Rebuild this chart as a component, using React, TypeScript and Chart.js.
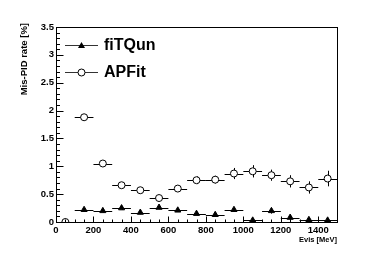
import React, { useEffect, useRef } from "react";
import { Chart, registerables } from "chart.js";

Chart.register(...registerables);

const energies = [50, 150, 250, 350, 450, 550, 650, 750, 850, 950, 1050, 1150, 1250, 1350, 1450];
const binHalfWidth = 50;
const fitqunRate = [0.0, 0.22, 0.2, 0.25, 0.17, 0.26, 0.21, 0.15, 0.13, 0.22, 0.03, 0.2, 0.08, 0.04, 0.03];
const fitqunErr = [0.0, 0.03, 0.03, 0.03, 0.03, 0.03, 0.03, 0.03, 0.03, 0.04, 0.03, 0.05, 0.04, 0.03, 0.03];
const apfitRate = [0.0, 1.88, 1.05, 0.66, 0.57, 0.43, 0.6, 0.75, 0.76, 0.87, 0.91, 0.84, 0.73, 0.62, 0.78];
const apfitErr = [0.0, 0.05, 0.04, 0.04, 0.04, 0.04, 0.05, 0.07, 0.07, 0.1, 0.11, 0.1, 0.11, 0.11, 0.14];
const xTickLabels = ["0", "200", "400", "600", "800", "1000", "1200", "1400"];
const yTickLabels = ["0", "0.5", "1", "1.5", "2", "2.5", "3", "3.5"];
const seriesNames = ["fiTQun", "APFit"];
const xTitle = "Evis [MeV]";
const yTitle = "Mis-PID rate [%]";

const FONT = "'Liberation Sans', Arial, Helvetica, sans-serif";

const rootPlugin = {
  id: "rootStyle",
  beforeDatasetsDraw(chart: any) {
    const ctx = chart.ctx;
    const xs = chart.scales.x;
    const ys = chart.scales.y;
    ctx.save();
    ctx.strokeStyle = "#000";
    ctx.lineWidth = 1;
    const drawErr = (vals: number[], errs: number[]) => {
      energies.forEach((e, i) => {
        const px = xs.getPixelForValue(e);
        const py = Math.round(ys.getPixelForValue(vals[i])) + 0.5;
        const x0 = xs.getPixelForValue(e - binHalfWidth);
        const x1 = xs.getPixelForValue(e + binHalfWidth);
        ctx.beginPath();
        ctx.moveTo(x0, py);
        ctx.lineTo(x1, py);
        const ix = Math.round(px) + 0.5;
        ctx.moveTo(ix, ys.getPixelForValue(vals[i] - errs[i]));
        ctx.lineTo(ix, ys.getPixelForValue(vals[i] + errs[i]));
        ctx.stroke();
      });
    };
    drawErr(fitqunRate, fitqunErr);
    drawErr(apfitRate, apfitErr);
    ctx.restore();
  },
  afterDraw(chart: any) {
    const ctx = chart.ctx;
    const a = chart.chartArea;
    const xs = chart.scales.x;
    const ys = chart.scales.y;
    ctx.save();
    ctx.strokeStyle = "#000";
    ctx.lineWidth = 1;
    const L = Math.round(a.left) + 0.5;
    const R = Math.round(a.right) + 0.5;
    const T = Math.round(a.top) + 0.5;
    const B = Math.round(a.bottom) + 0.5;
    ctx.strokeRect(L, T, R - L, B - T);
    ctx.beginPath();
    for (let v = 0; v <= 1500; v += 50) {
      const px = Math.round(xs.getPixelForValue(v)) + 0.5;
      const len = v % 200 === 0 ? 6 : 3;
      ctx.moveTo(px, B);
      ctx.lineTo(px, B - len);
    }
    for (let k = 0; k <= 35; k++) {
      const v = k / 10;
      const py = Math.round(ys.getPixelForValue(v)) + 0.5;
      const len = k % 5 === 0 ? 7 : 3.5;
      ctx.moveTo(L, py);
      ctx.lineTo(L + len, py);
    }
    ctx.stroke();

    ctx.fillStyle = "#000";
    ctx.font = `bold 7.5px ${FONT}`;
    ctx.textAlign = "right";
    ctx.textBaseline = "middle";
    ctx.fillText(xTitle, a.right, 239.5);
    ctx.save();
    ctx.font = `bold 9.5px ${FONT}`;
    ctx.translate(24, a.top - 4);
    ctx.rotate(-Math.PI / 2);
    ctx.textAlign = "right";
    ctx.textBaseline = "middle";
    ctx.fillText(yTitle, 0, 0);
    ctx.restore();

    const legendY = [45, 72];
    const lx0 = 65, lx1 = 98, mx = 81.5;
    legendY.forEach((y, i) => {
      ctx.strokeStyle = "#333";
      ctx.lineWidth = 1;
      ctx.beginPath();
      ctx.moveTo(lx0, y + 0.5);
      ctx.lineTo(lx1, y + 0.5);
      ctx.stroke();
      if (i === 0) {
        ctx.fillStyle = "#000";
        ctx.beginPath();
        ctx.moveTo(mx, y - 3);
        ctx.lineTo(mx + 3.5, y + 3);
        ctx.lineTo(mx - 3.5, y + 3);
        ctx.closePath();
        ctx.fill();
      } else {
        ctx.fillStyle = "#fff";
        ctx.strokeStyle = "#000";
        ctx.beginPath();
        ctx.arc(mx, y + 0.5, 3.5, 0, Math.PI * 2);
        ctx.fill();
        ctx.stroke();
      }
      ctx.fillStyle = "#000";
      ctx.font = `bold 16px ${FONT}`;
      ctx.textAlign = "left";
      ctx.textBaseline = "middle";
      ctx.fillText(seriesNames[i], 104, y + 1);
    });
    ctx.restore();
  },
};

export default function App() {
  const ref = useRef<HTMLCanvasElement | null>(null);
  useEffect(() => {
    if (!ref.current) return;
    const chart = new Chart(ref.current, {
      type: "scatter",
      data: {
        datasets: [
          {
            label: seriesNames[1],
            data: energies.map((e, i) => ({ x: e, y: apfitRate[i] })),
            pointStyle: "circle",
            pointRadius: 3.5,
            pointBackgroundColor: "#fff",
            pointBorderColor: "#000",
            pointBorderWidth: 1,
            showLine: false,
          },
          {
            label: seriesNames[0],
            data: energies.map((e, i) => ({ x: e, y: fitqunRate[i] })),
            pointStyle: "triangle",
            pointRadius: 3.5,
            pointBackgroundColor: "#000",
            pointBorderColor: "#000",
            pointBorderWidth: 1,
            showLine: false,
          },
        ],
      },
      options: {
        animation: false,
        responsive: false,
        maintainAspectRatio: false,
        layout: { padding: { left: 0, right: 37, top: 27, bottom: 0 } },
        plugins: { legend: { display: false }, tooltip: { enabled: false } },
        scales: {
          x: {
            type: "linear",
            min: 0,
            max: 1500,
            grid: { display: false, drawTicks: false },
            border: { display: false },
            afterFit: (s: any) => {
              s.height = 46;
            },
            ticks: {
              stepSize: 200,
              includeBounds: false,
              autoSkip: false,
              maxRotation: 0,
              padding: 3,
              color: "#000",
              font: { family: FONT, size: 9.5, weight: "bold" },
              callback: (v: any) => xTickLabels[Math.round(Number(v) / 200)] ?? "",
            },
          },
          y: {
            type: "linear",
            min: 0,
            max: 3.5,
            grid: { display: false, drawTicks: false },
            border: { display: false },
            afterFit: (s: any) => {
              s.width = 56;
            },
            ticks: {
              stepSize: 0.5,
              autoSkip: false,
              padding: 2,
              color: "#000",
              font: { family: FONT, size: 9.5, weight: "bold" },
              callback: (v: any) => yTickLabels[Math.round(Number(v) * 2)] ?? "",
            },
          },
        },
      },
      plugins: [rootPlugin],
    });
    return () => chart.destroy();
  }, []);
  return (
    <div style={{ position: "fixed", left: 0, top: 0, width: 374, height: 268, background: "#fff" }}>
      <canvas ref={ref} width={374} height={268} style={{ width: 374, height: 268 }} />
    </div>
  );
}
